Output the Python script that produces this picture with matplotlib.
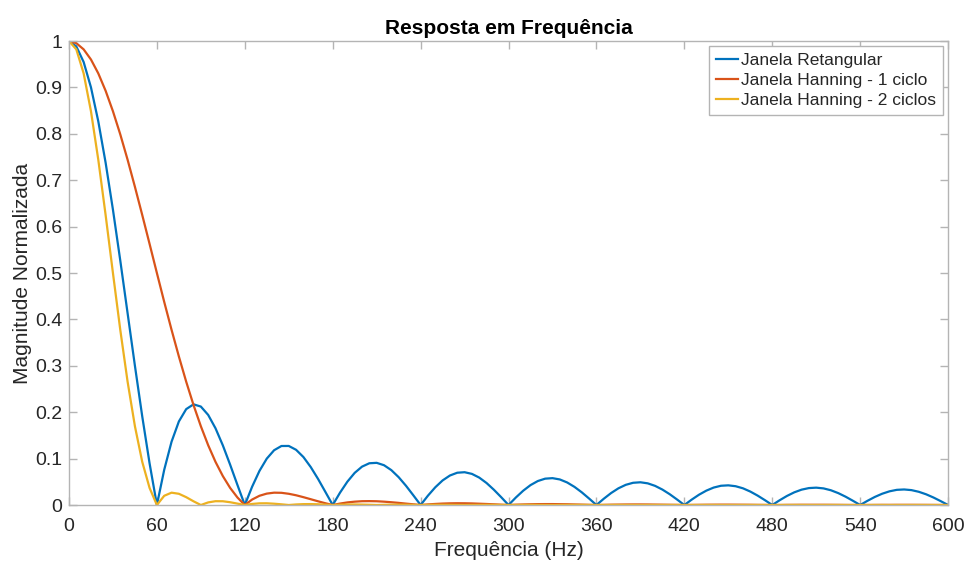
import matplotlib.pyplot as plt
import numpy as np

plt.rcParams['font.family'] = ['Liberation Sans', 'DejaVu Sans']

# frequency axis, 5 Hz steps from 0 to 600 Hz
freq = np.arange(0, 601, 5)

retangular = [
    1.0, 0.9886, 0.9549, 0.9003, 0.8270, 0.7379, 0.6366, 0.5271, 0.4135, 0.3001, 0.1910, 0.0899,
    0.0, 0.0760, 0.1364, 0.1801, 0.2067, 0.2170, 0.2122, 0.1942, 0.1654, 0.1286, 0.0868, 0.0430,
    0.0, 0.0395, 0.0735, 0.1000, 0.1181, 0.1272, 0.1273, 0.1190, 0.1034, 0.0818, 0.0562, 0.0282,
    0.0, 0.0267, 0.0503, 0.0693, 0.0827, 0.0900, 0.0909, 0.0858, 0.0752, 0.0600, 0.0415, 0.0210,
    0.0, 0.0202, 0.0382, 0.0530, 0.0636, 0.0696, 0.0707, 0.0671, 0.0591, 0.0474, 0.0329, 0.0168,
    0.0, 0.0162, 0.0308, 0.0429, 0.0517, 0.0568, 0.0579, 0.0551, 0.0486, 0.0391, 0.0273, 0.0139,
    0.0, 0.0135, 0.0258, 0.0360, 0.0435, 0.0479, 0.0490, 0.0467, 0.0413, 0.0333, 0.0233, 0.0119,
    0.0, 0.0116, 0.0222, 0.0310, 0.0376, 0.0415, 0.0424, 0.0405, 0.0360, 0.0290, 0.0203, 0.0104,
    0.0, 0.0102, 0.0195, 0.0273, 0.0331, 0.0365, 0.0374, 0.0358, 0.0318, 0.0257, 0.0180, 0.0092,
    0.0, 0.0091, 0.0174, 0.0243, 0.0295, 0.0327, 0.0335, 0.0321, 0.0285, 0.0231, 0.0162, 0.0083,
    0.0,
]

hanning_1 = [
    1.0, 0.9955, 0.9822, 0.9603, 0.9304, 0.8929, 0.8488, 0.7990, 0.7443, 0.6859, 0.6251, 0.5629,
    0.5, 0.4378, 0.3777, 0.3202, 0.2658, 0.2155, 0.1698, 0.1289, 0.0930, 0.0624, 0.0368, 0.0161,
    0.0, 0.0118, 0.0199, 0.0246, 0.0266, 0.0263, 0.0242, 0.0210, 0.0169, 0.0125, 0.0080, 0.0038,
    0.0, 0.0031, 0.0056, 0.0072, 0.0082, 0.0084, 0.0081, 0.0072, 0.0060, 0.0046, 0.0030, 0.0015,
    0.0, 0.0013, 0.0023, 0.0031, 0.0036, 0.0038, 0.0037, 0.0034, 0.0028, 0.0022, 0.0015, 0.0007,
    0.0, 0.0007, 0.0012, 0.0016, 0.0019, 0.0020, 0.0020, 0.0018, 0.0016, 0.0012, 0.0008, 0.0004,
    0.0, 0.0003, 0.0007, 0.0009, 0.0011, 0.0012, 0.0012, 0.0011, 0.0009, 0.0007, 0.0005, 0.0003,
    0.0, 0.0002, 0.0004, 0.0006, 0.0007, 0.0008, 0.0008, 0.0007, 0.0006, 0.0005, 0.0003, 0.0002,
    0.0, 0.0001, 0.0003, 0.0004, 0.0005, 0.0005, 0.0005, 0.0005, 0.0004, 0.0003, 0.0002, 0.0001,
    0.0, 0.0001, 0.0002, 0.0003, 0.0003, 0.0004, 0.0004, 0.0004, 0.0003, 0.0003, 0.0002, 0.0001,
    0.0,
]

hanning_2 = [
    1.0, 0.9822, 0.9304, 0.8488, 0.7443, 0.6251, 0.5, 0.3777, 0.2658, 0.1698, 0.0930, 0.0368,
    0.0, 0.0199, 0.0266, 0.0242, 0.0169, 0.0080, 0.0, 0.0056, 0.0082, 0.0081, 0.0060, 0.0030,
    0.0, 0.0023, 0.0036, 0.0037, 0.0028, 0.0015, 0.0, 0.0012, 0.0019, 0.0020, 0.0016, 0.0008,
    0.0, 0.0007, 0.0011, 0.0012, 0.0009, 0.0005, 0.0, 0.0004, 0.0007, 0.0008, 0.0006, 0.0003,
    0.0, 0.0003, 0.0005, 0.0005, 0.0004, 0.0002, 0.0, 0.0002, 0.0003, 0.0004, 0.0003, 0.0002,
    0.0, 0.0001, 0.0002, 0.0003, 0.0002, 0.0001, 0.0, 0.0001, 0.0002, 0.0002, 0.0002, 0.0001,
    0.0, 0.0001, 0.0001, 0.0002, 0.0001, 0.0001, 0.0, 0.0001, 0.0001, 0.0001, 0.0001, 0.0001,
    0.0, 0.0001, 0.0001, 0.0001, 0.0001, 0.0, 0.0, 0.0, 0.0001, 0.0001, 0.0001, 0.0,
    0.0, 0.0, 0.0001, 0.0001, 0.0001, 0.0, 0.0, 0.0, 0.0001, 0.0001, 0.0, 0.0,
    0.0, 0.0, 0.0001, 0.0001, 0.0, 0.0, 0.0, 0.0, 0.0001, 0.0, 0.0, 0.0,
    0.0,
]

series = [
    ('Janela Retangular', retangular, '#0072BD'),
    ('Janela Hanning - 1 ciclo', hanning_1, '#D95319'),
    ('Janela Hanning - 2 ciclos', hanning_2, '#EDB120'),
]

xticks = np.arange(0, 601, 60)
yticks = np.arange(0, 1.01, 0.1)
ytick_labels = ['0'] + [f'{v:.1f}' for v in yticks[1:-1]] + ['1']

fig = plt.figure(figsize=(9.73, 5.63), dpi=100)
ax = fig.add_axes([0.0709, 0.103, 0.9035, 0.824])

for name, vals, color in series:
    ax.plot(freq, vals, color=color, linewidth=1.6, label=name)

ax.set_xlim(0, 600)
ax.set_ylim(0, 1)
ax.set_xticks(xticks)
ax.set_yticks(yticks)
ax.set_yticklabels(ytick_labels)

axis_grey = '#b4b4b4'
text_grey = '#262626'
for side in ax.spines.values():
    side.set_color(axis_grey)
    side.set_linewidth(1.0)
ax.tick_params(direction='in', length=6, width=1.0, color=axis_grey,
               labelcolor=text_grey, labelsize=14, top=True, right=True)
ax.tick_params(axis='x', pad=9)
ax.tick_params(axis='y', pad=5)

ax.set_title('Resposta em Frequência', fontsize=15, fontweight='bold', color='black', pad=5)
ax.set_xlabel('Frequência (Hz)', fontsize=15, color=text_grey, labelpad=5)
ax.set_ylabel('Magnitude Normalizada', fontsize=15, color=text_grey, labelpad=2)

leg = ax.legend(loc='upper right', fontsize=12.5, handlelength=1.3, handletextpad=0.15,
                borderpad=0.4, labelspacing=0.28, borderaxespad=0.3, fancybox=False,
                framealpha=1, edgecolor=axis_grey)
leg.get_frame().set_linewidth(1.0)
for t in leg.get_texts():
    t.set_color(text_grey)

fig.savefig('out.png', dpi=100)
